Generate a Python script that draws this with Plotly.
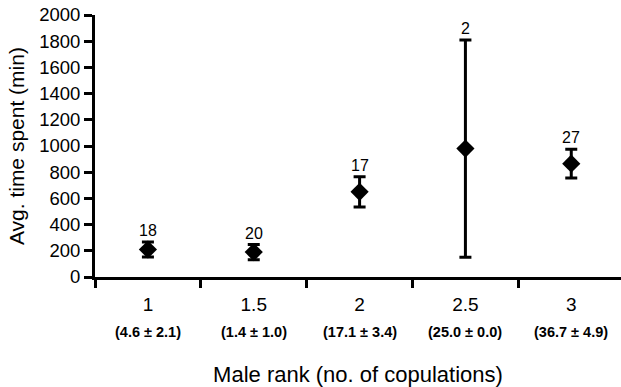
import plotly.graph_objects as go

# ---- data ----
ranks = ["1", "1.5", "2", "2.5", "3"]
copulations = ["(4.6 ± 2.1)", "(1.4 ± 1.0)", "(17.1 ± 3.4)", "(25.0 ± 0.0)", "(36.7 ± 4.9)"]
avg_time = [210, 190, 650, 980, 865]
time_err = [57, 58, 115, 830, 110]
n_obs = [18, 20, 17, 2, 27]
y_ticks = list(range(0, 2001, 200))

FONT = "Liberation Sans, Arial, sans-serif"

fig = go.Figure()
fig.add_trace(go.Scatter(
    x=ranks, y=avg_time, mode="markers",
    marker=dict(symbol="diamond", size=14, color="black"),
    error_y=dict(type="data", array=time_err, visible=True,
                 thickness=3, width=6, color="black"),
    cliponaxis=False, showlegend=False, hoverinfo="skip",
))

# annotations on a category axis are placed by category index
for i, (m, e, n) in enumerate(zip(avg_time, time_err, n_obs)):
    fig.add_annotation(x=i, y=m + e, text=str(n), showarrow=False,
                       yanchor="bottom", yshift=1,
                       font=dict(size=16, color="black", family=FONT))

for i, c in enumerate(copulations):
    fig.add_annotation(x=i, y=-0.21, yref="paper", text=f"<b>{c}</b>",
                       showarrow=False, yanchor="middle",
                       font=dict(size=14.5, color="black", family=FONT))

# y-axis title as a rotated annotation (axis title standoff is clamped by margins)
fig.add_annotation(x=-0.150, y=0.5, xref="paper", yref="paper",
                   text="Avg. time spent (min)", textangle=-90,
                   showarrow=False, xanchor="center", yanchor="middle",
                   font=dict(size=21, color="black", family=FONT))

fig.update_layout(
    width=621, height=387,
    margin=dict(l=95, r=0, t=15, b=110),
    plot_bgcolor="white", paper_bgcolor="white",
    font=dict(family=FONT, color="black"),
    xaxis=dict(
        type="category", range=[-0.5, 4.47], automargin=False,
        tickson="boundaries", ticks="outside", ticklen=8, tickwidth=3,
        tickcolor="black", showline=True, linewidth=3, linecolor="black",
        showgrid=False, zeroline=False,
        tickfont=dict(size=19), ticklabelstandoff=8,
        title=dict(text="Male rank (no. of copulations)",
                   font=dict(size=22), standoff=55),
    ),
    yaxis=dict(
        range=[0, 2000], tickvals=y_ticks, automargin=False,
        ticklabeloverflow="allow",
        ticks="outside", ticklen=8, tickwidth=3, tickcolor="black",
        showline=True, linewidth=3, linecolor="black",
        showgrid=False, zeroline=False,
        tickfont=dict(size=18.5),
    ),
)

# remove the browser's default 8px body margin so the figure fills the window
fig.write_html("out.html",
               config={"displayModeBar": False},
               post_script="document.body.style.margin='0';")
